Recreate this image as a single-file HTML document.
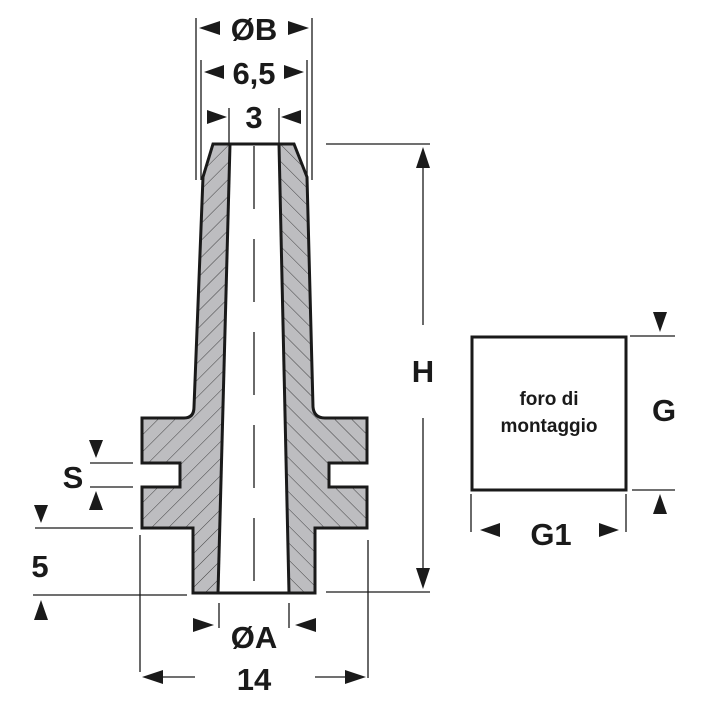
<!DOCTYPE html>
<html><head><meta charset="utf-8"><style>
html,body{margin:0;padding:0;background:#fff;}
svg{display:block;}
text{font-family:"Liberation Sans",Arial,sans-serif;font-weight:bold;fill:#1a1a1a;}
</style></head><body>
<svg width="709" height="709" viewBox="0 0 709 709" xmlns="http://www.w3.org/2000/svg">
<defs>
<pattern id="hl" width="12" height="12" patternUnits="userSpaceOnUse" patternTransform="rotate(45)">
<rect width="12" height="12" fill="#bdbdc0"/><line x1="0" y1="0" x2="0" y2="12" stroke="#333" stroke-width="0.9"/></pattern>
<pattern id="hr" width="12" height="12" patternUnits="userSpaceOnUse" patternTransform="rotate(-45)">
<rect width="12" height="12" fill="#bdbdc0"/><line x1="0" y1="0" x2="0" y2="12" stroke="#333" stroke-width="0.9"/></pattern>
<clipPath id="cl"><rect x="0" y="0" width="254" height="709"/></clipPath>
<clipPath id="cr"><rect x="254" y="0" width="455" height="709"/></clipPath>
</defs>
<g stroke="#1a1a1a" stroke-width="1.3" fill="none">
<line x1="196" y1="18" x2="196" y2="180"/>
<line x1="312" y1="18" x2="312" y2="180"/>
<line x1="201" y1="60" x2="201" y2="180"/>
<line x1="307" y1="60" x2="307" y2="180"/>
<line x1="229" y1="108" x2="229" y2="146"/>
<line x1="279" y1="108" x2="279" y2="146"/>
<line x1="326" y1="144" x2="430" y2="144"/>
<line x1="326" y1="592" x2="430" y2="592"/>
<line x1="423" y1="160" x2="423" y2="325"/>
<line x1="423" y1="418" x2="423" y2="575"/>
<line x1="90" y1="463" x2="133" y2="463"/>
<line x1="90" y1="487" x2="133" y2="487"/>
<line x1="35" y1="528" x2="133" y2="528"/>
<line x1="33" y1="595" x2="187" y2="595"/>
<line x1="140" y1="535" x2="140" y2="672"/>
<line x1="368" y1="540" x2="368" y2="678"/>
<line x1="160" y1="677" x2="195" y2="677"/>
<line x1="315" y1="677" x2="350" y2="677"/>
<line x1="219" y1="603" x2="219" y2="628"/>
<line x1="289" y1="603" x2="289" y2="628"/>
<line x1="630" y1="336" x2="675" y2="336"/>
<line x1="632" y1="490" x2="675" y2="490"/>
<line x1="471" y1="494" x2="471" y2="532"/>
<line x1="626" y1="494" x2="626" y2="532"/>
</g>
<g fill="#1a1a1a">
<polygon points="199,28 220,21 220,35"/>
<polygon points="309,28 288,21 288,35"/>
<polygon points="204,72 224,65 224,79"/>
<polygon points="304,72 284,65 284,79"/>
<polygon points="227,117 207,110 207,124"/>
<polygon points="281,117 301,110 301,124"/>
<polygon points="423,147 416,168 430,168"/>
<polygon points="423,589 416,568 430,568"/>
<polygon points="96,458 89,440 103,440"/>
<polygon points="96,491 89,510 103,510"/>
<polygon points="41,523 34,505 48,505"/>
<polygon points="41,600 34,620 48,620"/>
<polygon points="214,625 193,618 193,632"/>
<polygon points="295,625 316,618 316,632"/>
<polygon points="142,677 163,670 163,684"/>
<polygon points="366,677 345,670 345,684"/>
<polygon points="660,332 653,312 667,312"/>
<polygon points="660,494 653,514 667,514"/>
<polygon points="480,530 500,523 500,537"/>
<polygon points="619,530 599,523 599,537"/>
</g>
<g>
<path d="M213,144 L294,144 L307,177 L313,407 Q314,418 325,418 L367,418 L367,463 L329,463 L329,487 L367,487 L367,528 L315,528 L315,593 L193,593 L193,528 L142,528 L142,487 L180,487 L180,463 L142,463 L142,418 L184,418 Q194,418 194,407 L203,177 Z" fill="url(#hl)" clip-path="url(#cl)"/>
<path d="M213,144 L294,144 L307,177 L313,407 Q314,418 325,418 L367,418 L367,463 L329,463 L329,487 L367,487 L367,528 L315,528 L315,593 L193,593 L193,528 L142,528 L142,487 L180,487 L180,463 L142,463 L142,418 L184,418 Q194,418 194,407 L203,177 Z" fill="url(#hr)" clip-path="url(#cr)"/>
<path d="M230,144 L279,144 L289,593 L218,593 Z" fill="#fff"/>
<path d="M213,144 L294,144 L307,177 L313,407 Q314,418 325,418 L367,418 L367,463 L329,463 L329,487 L367,487 L367,528 L315,528 L315,593 L193,593 L193,528 L142,528 L142,487 L180,487 L180,463 L142,463 L142,418 L184,418 Q194,418 194,407 L203,177 Z" fill="none" stroke="#1a1a1a" stroke-width="3" stroke-linejoin="miter"/>
<line x1="230" y1="144" x2="218" y2="593" stroke="#1a1a1a" stroke-width="3"/>
<line x1="279" y1="144" x2="289" y2="593" stroke="#1a1a1a" stroke-width="3"/>
<line x1="254" y1="146" x2="254" y2="592" stroke="#1a1a1a" stroke-width="1.3" stroke-dasharray="63,30"/>
</g>
<rect x="472" y="337" width="154" height="153" fill="none" stroke="#1a1a1a" stroke-width="3"/>
<g text-anchor="middle">
<text x="254" y="40" font-size="31">ØB</text>
<text x="254" y="84" font-size="31">6,5</text>
<text x="254" y="128" font-size="31">3</text>
<text x="423" y="382" font-size="31">H</text>
<text x="73" y="488" font-size="31">S</text>
<text x="40" y="577" font-size="31">5</text>
<text x="254" y="648" font-size="31">ØA</text>
<text x="254" y="690" font-size="31">14</text>
<text x="664" y="421" font-size="31">G</text>
<text x="551" y="545" font-size="31">G1</text>
<text x="549" y="405" font-size="19">foro di</text>
<text x="549" y="432" font-size="19">montaggio</text>
</g>
</svg>
</body></html>
